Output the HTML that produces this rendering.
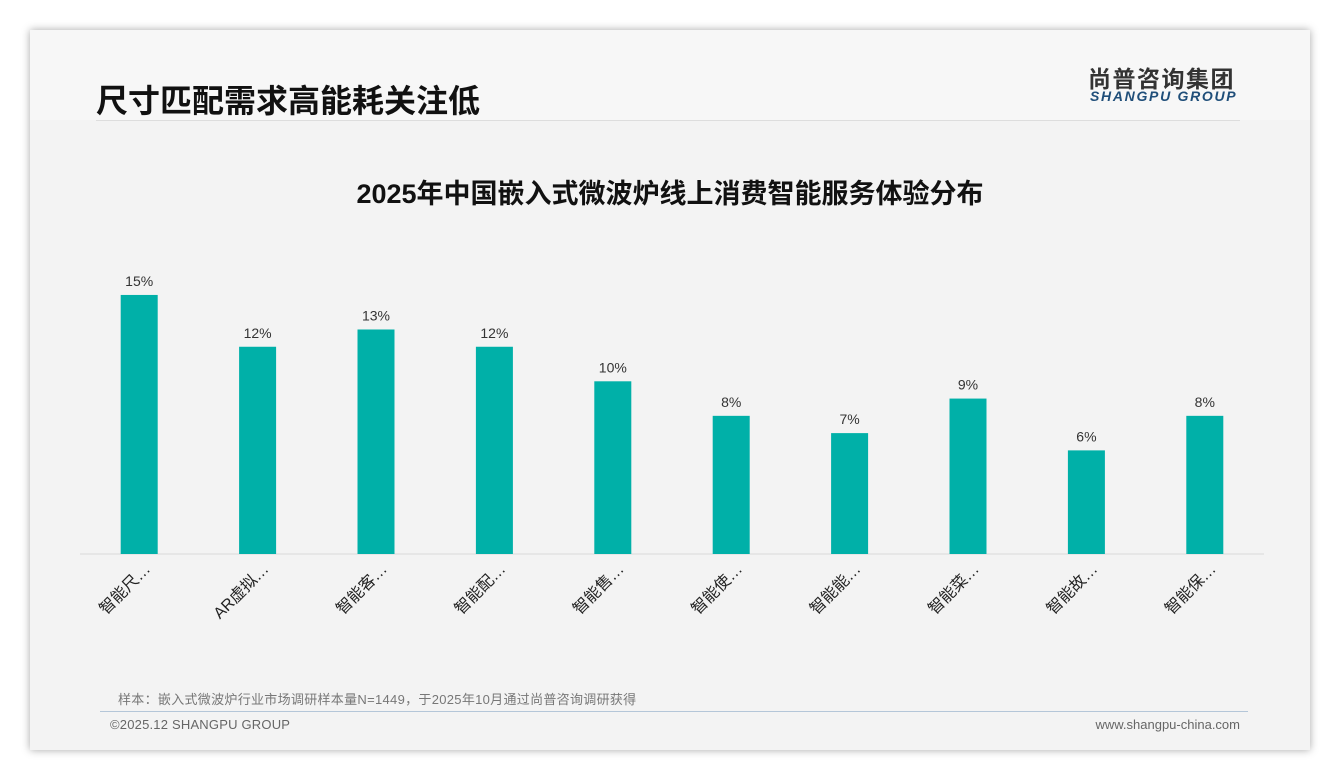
<!DOCTYPE html>
<html><head><meta charset="utf-8"><style>
body{margin:0;width:1340px;height:780px;background:#fff;font-family:"Liberation Sans","Noto Sans CJK SC",sans-serif;overflow:hidden;position:relative}
.card{position:absolute;left:30px;top:30px;width:1280px;height:720px;background:#f3f3f3;box-shadow:0 0 8px rgba(0,0,0,.35)}
.hdr{position:absolute;left:0;top:0;width:1280px;height:90px;background:#f7f7f7}
</style></head><body>
<div class="card">
<div class="hdr"></div>
</div>
<div style="position:absolute;left:96px;top:76px;font-size:32px;font-weight:bold;color:#111">尺寸匹配需求高能耗关注低</div>
<div style="position:absolute;left:96px;top:120px;width:1144px;height:1px;background:#ddd"></div>
<div style="position:absolute;left:1088px;top:60px;font-size:23px;font-weight:bold;color:#333;letter-spacing:1.5px">尚普咨询集团</div>
<div style="position:absolute;left:1090px;top:88px;font-size:14px;font-weight:bold;font-style:italic;color:#1f4e79;letter-spacing:1.7px">SHANGPU GROUP</div>
<svg width="1340" height="780" style="position:absolute;left:0;top:0">
<text x="670" y="203" text-anchor="middle" font-size="27" font-weight="bold" fill="#111">2025年中国嵌入式微波炉线上消费智能服务体验分布</text>
<line x1="80" y1="554" x2="1264" y2="554" stroke="#d9d9d9" stroke-width="1"/>
<g id="bars"></g>
</svg>
<div style="position:absolute;left:118px;top:689px;font-size:13px;color:#777;letter-spacing:0.3px">样本：嵌入式微波炉行业市场调研样本量N=1449，于2025年10月通过尚普咨询调研获得</div>
<div style="position:absolute;left:100px;top:711px;width:1148px;height:1px;background:#b4c6d8"></div>
<div style="position:absolute;left:110px;top:717px;font-size:13px;color:#666;letter-spacing:0.2px">©2025.12 SHANGPU GROUP</div>
<div style="position:absolute;right:100px;top:717px;font-size:13px;color:#666">www.shangpu-china.com</div>
<script>
const categories=["智能尺…","AR虚拟…","智能客…","智能配…","智能售…","智能使…","智能能…","智能菜…","智能故…","智能保…"];
const values=[15,12,13,12,10,8,7,9,6,8];
const valueLabels=["15%","12%","13%","12%","10%","8%","7%","9%","6%","8%"];
const NS="http://www.w3.org/2000/svg";
const g=document.getElementById('bars');
const x0=80,x1=1264,base=554,scale=17.27;
const step=(x1-x0)/categories.length;
const xc=i=>x0+step*(i+0.5);
const y=v=>base-v*scale;
categories.forEach((c,i)=>{
 const r=document.createElementNS(NS,'rect');
 
 
 r.setAttribute('x',xc(i)-18.5);r.setAttribute('y',y(values[i]));
 r.setAttribute('width',37);r.setAttribute('height',base-y(values[i]));
 r.setAttribute('fill','#00b0a8');g.appendChild(r);
 const t=document.createElementNS(NS,'text');
 
 
 t.setAttribute('x',xc(i));t.setAttribute('y',y(values[i])-9);
 t.setAttribute('text-anchor','middle');t.setAttribute('font-size','14');t.setAttribute('fill','#333');
 t.textContent=valueLabels[i];g.appendChild(t);
 const l=document.createElementNS(NS,'text');
 
 
 const lx=xc(i)+12,ly=570;
 l.setAttribute('x',lx);l.setAttribute('y',ly);
 l.setAttribute('text-anchor','end');l.setAttribute('font-size','16');l.setAttribute('fill','#222');
 l.setAttribute('transform','rotate(-45 '+lx+' '+ly+')');
 l.textContent=c;g.appendChild(l);
});
</script>
</body></html>
